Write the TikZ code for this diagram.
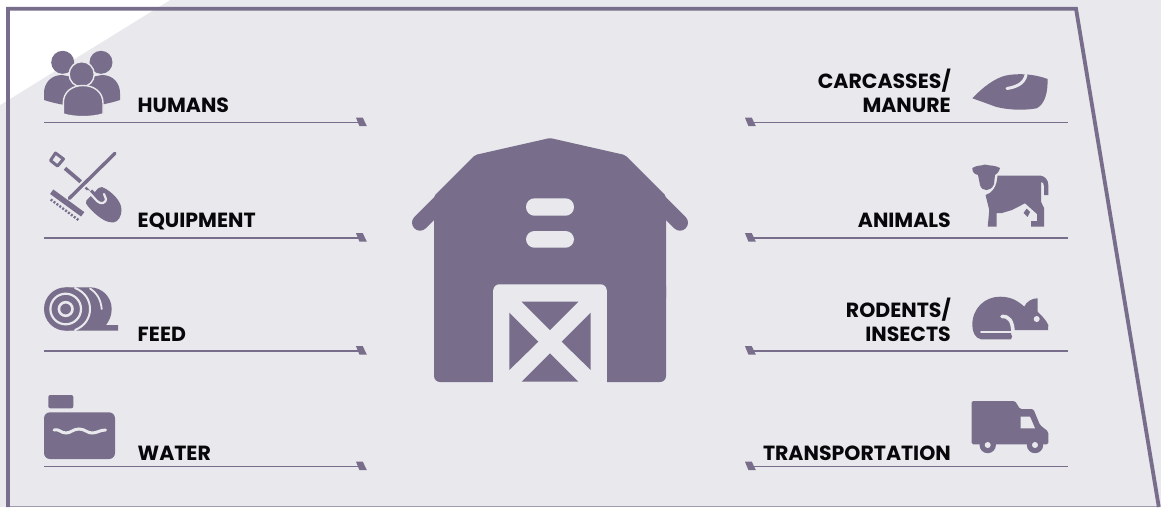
\documentclass[tikz,border=0pt]{standalone}
\usepackage{fontspec}
\setmainfont{Poppins}
\usetikzlibrary{positioning, calc}
\definecolor{barnInk}{RGB}{120, 110, 139}
\definecolor{paleBg}{RGB}{233, 232, 237}
\definecolor{labelInk}{RGB}{8, 8, 10}
\tikzset{
  sourcelabel/.style={
    font=\fontsize{20.5}{24}\selectfont\bfseries, text=labelInk,
    inner sep=0pt, text depth=0pt,
  },
  leftlabel/.style={sourcelabel, anchor=south west, align=left},
  rightlabel/.style={sourcelabel, anchor=south east, align=right},
  rule/.style={draw=barnInk, line width=1.3pt},
  frameline/.style={draw=barnInk, line width=3.8pt, line join=miter},
  cutline/.style={draw=paleBg, line width=3pt, line cap=round},
  inkline/.style={draw=barnInk, line cap=round},
}
\newcommand{\ruletip}[2]{%
  % #1 = x of the top left corner, #2 = y of the rule
  \fill[barnInk] (#1,#2-4.8) -- ++(6.8,0) -- ++(4,8.4) -- ++(-7.4,0) -- cycle;
}

\begin{document}
\begin{tikzpicture}[x=1pt, y=-1pt]

\useasboundingbox (0,0) rectangle (1161,507);

% =========================================================================
% background and frame
% =========================================================================

\fill[paleBg] (0,0) rectangle (1161,507);
\fill[white] (0,0) -- (170,0) -- (0,105) -- cycle;
\draw[barnInk!70, line width=1pt] (8,506.5) -- (1158,506.5);
\draw[frameline] (8,507) -- (8,8.7) -- (1076,8.7) -- (1158.8,507);

% =========================================================================
% barn
% =========================================================================

\draw[inkline, line width=16pt] (420,222.7) -- (470,172.7);
\draw[inkline, line width=16pt] (680,222.7) -- (630,172.7);
\fill[barnInk, rounded corners=2pt] (434,300) -- (434,196) -- (475,155) -- (550,138)
  -- (625,155) -- (666,196) -- (666,300) -- cycle;
\fill[barnInk, rounded corners=6pt] (434,280) rectangle (666,382);
\fill[paleBg] (687.5,200) rectangle (700,240);
\fill[paleBg, rounded corners=8.5pt] (526,198.3) rectangle (574,215.7);
\fill[paleBg, rounded corners=8.5pt] (526,231) rectangle (574,247.7);
\fill[paleBg, rounded corners=6pt] (493.3,284.3) rectangle (606.7,300);
\fill[paleBg] (493.3,290) rectangle (606.7,382.5);
\fill[barnInk] (521.7,301.7) -- (578.3,301.7) -- (550,330) -- cycle;
\fill[barnInk] (509.3,312.7) -- (538.3,341.7) -- (509.3,370) -- cycle;
\fill[barnInk] (590.7,312.7) -- (561.7,341.7) -- (590.7,370) -- cycle;
\fill[barnInk] (550,353.3) -- (521.7,381.7) -- (578.3,381.7) -- cycle;

% =========================================================================
% labels
% =========================================================================

\node[leftlabel] (humans) at (137.5,112.7) {HUMANS};
\node[leftlabel] (equipment) at (137.5,227.9) {EQUIPMENT};
\node[leftlabel] (feed) at (137.5,341.2) {FEED};
\node[leftlabel] (water) at (137.5,460.2) {WATER};

\node[rightlabel] (carcasses) at (951,112.9) {CARCASSES/\\MANURE};
\node[rightlabel] (animals) at (951,227.9) {ANIMALS};
\node[rightlabel] (rodents) at (951,341.2) {RODENTS/\\INSECTS};
\node[rightlabel] (transport) at (951,460.2) {TRANSPORTATION};

% =========================================================================
% rules under the labels
% =========================================================================

\foreach \n/\y in {humans/122.5, equipment/238, feed/351, water/466.5}{
  \coordinate (\n-start) at (44,\y);
  \coordinate (\n-end) at (358,\y);
  \draw[rule] (\n-start) -- (\n-end);
  \ruletip{356}{\y}
}
\foreach \n/\y in {carcasses/122.5, animals/238, rodents/351, transport/466.5}{
  \coordinate (\n-start) at (1068,\y);
  \coordinate (\n-end) at (752,\y);
  \draw[rule] (\n-start) -- (\n-end);
  \ruletip{745}{\y}
}

% =========================================================================
% icons, left column
% =========================================================================

% people
\fill[barnInk] (62.7,62.3) circle (11.5);
\fill[barnInk] (101,62.3) circle (11.5);
\fill[barnInk] (44,100) -- (44,93) .. controls (44,83) and (51,75) .. (62,75)
  -- (78,78) -- (78,105) -- (65,105) .. controls (58,104) and (50,102) .. (44,100) -- cycle;
\fill[barnInk] (120,100) -- (120,93) .. controls (120,83) and (113,75) .. (102,75)
  -- (86,78) -- (86,105) -- (99,105) .. controls (106,104) and (114,102) .. (120,100) -- cycle;
\filldraw[barnInk, draw=paleBg, line width=1.4pt] (81.7,74.3) circle (12.6);
\filldraw[barnInk, draw=paleBg, line width=1.4pt]
  (63.3,114) -- (63.3,103) .. controls (63.3,92) and (72,85.5) .. (83,85.5)
  .. controls (94,85.5) and (103,92) .. (103,103) -- (103,114)
  .. controls (92,117.5) and (74,117.5) .. (63.3,114) -- cycle;

% rake and shovel
\draw[inkline, line width=3.4pt] (115,153.3) -- (69.3,198.3);
\draw[barnInk, line width=5.5pt] (51.7,191.7) -- (82.7,214.3);
\draw[barnInk, line width=2.4pt, dash pattern=on 2pt off 1.6pt] (50.7,199.5) -- (78.5,220);
\draw[barnInk, line width=3.8pt] (65,168.3) -- (80.7,181.7);
\draw[barnInk, line width=3pt, line join=round] (55.5,153) -- (63.5,159)
  -- (57.5,166) -- (50.5,160.5) -- cycle;
\draw[barnInk, line width=2.4pt] (85.5,187.5) -- (89,191);
\fill[barnInk, rounded corners=2pt] (100,186.5) .. controls (108,189) and (119,198) .. (121.5,208.3)
  .. controls (121.5,216) and (118,222) .. (111.7,222.5) .. controls (102,221) and (90,210) .. (85,201.7)
  -- (92,195) -- cycle;
\draw[draw=paleBg, line width=2.2pt, line cap=round] (88,191) -- (97,201)
  .. controls (101,205) and (106,203) .. (106,199) -- (104,194);
\draw[barnInk, line width=3pt] (91,190.5) -- (99,198.5);

% hay roll
\fill[barnInk] (65.7,287.3) -- (90,287.3) .. controls (102,287.3) and (111.7,297) .. (111.7,309)
  .. controls (111.7,316) and (109,321) .. (106,325) -- (118,325) -- (118,330.7) -- (65.7,330.7) -- cycle;
\fill[barnInk] (65.7,309) circle (21.7);
\draw[draw=paleBg, line width=2.2pt] (65.7,309) circle (15.3);
\draw[draw=paleBg, line width=2.6pt] (65.7,309) circle (6.8);
\draw[cutline, line width=2pt] (75,288) .. controls (85,292) and (90,300) .. (90,309)
  .. controls (90,318) and (85,326) .. (75,330);
\draw[cutline, line width=1.8pt] (90,288.5) .. controls (97,293) and (101,300) .. (101.7,309);

% water tank
\fill[barnInk, rounded corners=2pt] (48.3,395) rectangle (73.3,408.3);
\fill[barnInk, rounded corners=6pt] (44,412.3) rectangle (115,459);
\draw[cutline] (54,430) .. controls (59,428.5) and (61,433) .. (66,433)
  .. controls (71,433) and (73,429) .. (79,429) .. controls (85,429) and (87,433) .. (92,433)
  .. controls (97,433) and (100,430) .. (105.5,430);

% =========================================================================
% icons, right column
% =========================================================================

% carcass
\fill[barnInk] (972.3,98.3) .. controls (983,87) and (995,78) .. (1006,75.5)
  .. controls (1018,73) and (1035,74) .. (1047.5,79) .. controls (1048,92) and (1045,104) .. (1036.7,108.3)
  .. controls (1022,111) and (1005,109.5) .. (995,106.5) .. controls (987,103.5) and (980,101) .. (972.3,98.3) -- cycle;
\draw[cutline] (1026,75) .. controls (1024,84) and (1016,87) .. (1007,88.5);

% cow
\fill[barnInk] (972.3,168) .. controls (977,165) and (981,166) .. (985,164.5)
  .. controls (990,166) and (995,165) .. (1000,168) .. controls (999,172) and (997,174) .. (995,175)
  -- (994,184) .. controls (991,192) and (982,192) .. (980,185) -- (978,175)
  .. controls (974,174) and (972.3,172) .. (972.3,168) -- cycle;
\fill[barnInk] (997.5,175.5) -- (1040,175.5) .. controls (1045,176) and (1048.3,180) .. (1048.3,185)
  -- (1048.3,195) -- (1044,195) -- (1044,186) .. controls (1044,183) and (1042.5,182) .. (1041,182)
  -- (1041,201.7) -- (1044,208) -- (1044,226.7) -- (1031,226.7) -- (1031,221) -- (1037,221) -- (1037,214)
  -- (1025,203.3) -- (1012,210) -- (1002,213) -- (996.7,213) -- (996.7,226.7) -- (987.7,226.7)
  -- (989,213) -- (989,209) -- (985.5,195) .. controls (992,193) and (997,187) .. (997.5,175.5) -- cycle;
\fill[barnInk] (1026.7,208.5) -- (1030,212) -- (1027.5,217) -- (1023.5,213) -- cycle;

% rodent
\fill[barnInk] (972.3,325) .. controls (972.3,308) and (985,296.7) .. (1000,296.7)
  .. controls (1010,296.7) and (1017,300) .. (1024.3,306.7) .. controls (1026,302) and (1032,298) .. (1037.7,298.3)
  -- (1037.7,311.7) .. controls (1042,316) and (1046,320) .. (1048.3,325) -- (1048,330) -- (1015,330)
  -- (1011,330) -- (1011,339.3) -- (981,339.3) .. controls (975,338) and (972.3,332) .. (972.3,325) -- cycle;
\draw[inkline, line width=5.3pt] (1009,336.7) -- (1009.5,336.7);
\draw[cutline, line width=3.6pt] (1002,316.5) .. controls (1009,316) and (1012.5,321) .. (1013,331.5);
\draw[cutline, line width=1.9pt] (981,331.7) -- (1013,331.7);
\fill[paleBg] (1036.7,319) circle (3);

% truck
\fill[barnInk, rounded corners=1.5pt] (971.7,401) -- (1015,401) -- (1020,409) -- (1033.3,409) -- (1040,425)
  -- (1048.3,431.7) -- (1048.3,444.3) -- (971.7,444.3) -- cycle;
\fill[barnInk] (987.7,445) circle (8.2);
\fill[barnInk] (1035,445) circle (8.2);
\fill[paleBg] (987.7,445) circle (3);
\fill[paleBg] (1035,445) circle (3);
\fill[paleBg] (1020.7,416.7) -- (1030,416.7) -- (1035,428.3) -- (1020.7,428.3) -- cycle;

\end{tikzpicture}
\end{document}
